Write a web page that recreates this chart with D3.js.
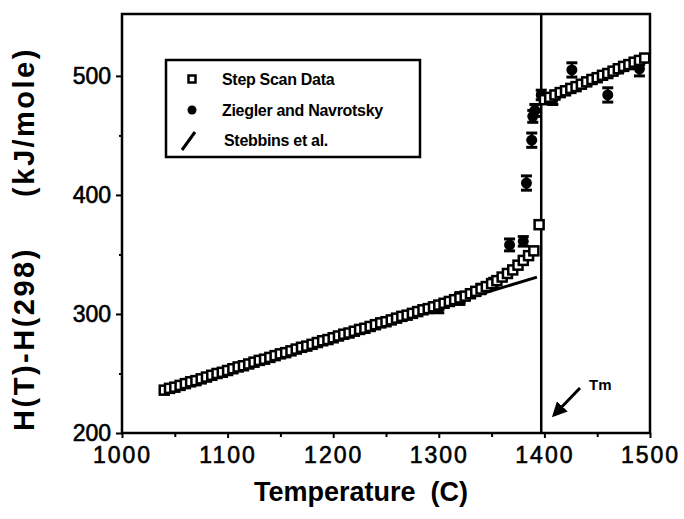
<!DOCTYPE html>
<html>
<head>
<meta charset="utf-8">
<script src="https://cdn.jsdelivr.net/npm/d3@7"></script>
<style>
  body { margin: 0; background: #fff; }
  svg { display: block; font-family: "Liberation Sans", Arial, sans-serif; }
</style>
</head>
<body>
<svg id="chart" width="684" height="519"></svg>
<script>
// step scan data (T in C, H in kJ/mole)
var stepT = [1040,1045,1050,1055,1060,1065,1070,1075,1080,1085,1090,1095,1100,1105,1110,1115,1120,1125,1130,1135,
             1140,1145,1150,1155,1160,1165,1170,1175,1180,1185,1190,1195,1200,1205,1210,1215,1220,1225,1230,1235,
             1240,1245,1250,1255,1260,1265,1270,1275,1280,1285,1290,1295,1300,1305,1310,1315,1320,1325,1330,1335,
             1340,1345,1350,1355,1360,1365,1370,1375,1380,1385,1390,1395,
             1400,1405,1410,1415,1420,1425,1430,1435,1440,1445,1450,1455,1460,1465,1470,1475,1480,1485,1490,1495];
var stepH = [236,237.5,238.5,240,241.5,243,244,245.5,247,248.5,250,251,252.5,254,255.5,256.5,258,259.5,261,262,
             263.5,265,266.5,267.5,269,270.5,272,273,274.5,276,277.5,278.5,280,281.5,283,284,285.5,287,288,289.5,
             291,292.5,293.5,295,296.5,298,299,300.5,302,303.5,304.5,306,307.5,309,310.5,312,313.5,315,317,319,
             321,323,325.5,328,331,334,337,341,345,349,353,375,
             480,482,484,486,487.5,489.5,491,493,495,497,498.5,500.5,502,504,506,508,509.5,511.5,513,515];

// Ziegler and Navrotsky (drop calorimetry) with error bars
var zieT = [1300,1320,1340,1352,1367,1380,1383,1388,1389,1391,1397,1408,1426,1460,1490];
var zieH = [305,313,321,326,358,361,410,446,466,471,484,480,505,484,506];
var zieE = [4,5,4,4,5,4,6,6,5,5,4,4,6,6,6];

// Stebbins et al. fits
var stebSolidT = [1040,1393];
var stebSolidH = [236,331];
var stebLiqT = [1400,1500];
var stebLiqH = [477,513];

var tm = 1397;

var xTicks = [1000,1100,1200,1300,1400,1500];
var xMinor = [1050,1150,1250,1350,1450];
var yTicks = [200,300,400,500];
var yMinor = [250,350,450];

var legendNames = ["Step Scan Data","Ziegler and Navrotsky","Stebbins et al."];

var svg = d3.select("#chart");
var x = d3.scaleLinear().domain([1000,1500]).range([122,650]);
var y = d3.scaleLinear().domain([200,552]).range([433,14]);

// frame
svg.append("rect")
  .attr("x", 122).attr("y", 14)
  .attr("width", 528).attr("height", 419)
  .attr("fill", "none").attr("stroke", "#000").attr("stroke-width", 2.5);

// axes
var xAxis = svg.append("g").attr("transform", "translate(0,433)")
  .call(d3.axisBottom(x).tickValues(xTicks).tickSize(5).tickPadding(9).tickFormat(d3.format("d")));
xAxis.select(".domain").remove();
xAxis.selectAll("line").attr("stroke-width", 2);
xAxis.selectAll("text").attr("font-size", 23).attr("letter-spacing", 2)
  .attr("fill", "#000").attr("stroke", "#000").attr("stroke-width", 0.6);

var xAxisMinor = svg.append("g").attr("transform", "translate(0,433)")
  .call(d3.axisBottom(x).tickValues(xMinor).tickSize(4).tickFormat(""));
xAxisMinor.select(".domain").remove();
xAxisMinor.selectAll("line").attr("stroke-width", 2);

var yAxis = svg.append("g").attr("transform", "translate(122,0)")
  .call(d3.axisLeft(y).tickValues(yTicks).tickSize(6).tickPadding(5).tickFormat(d3.format("d")));
yAxis.select(".domain").remove();
yAxis.selectAll("line").attr("stroke-width", 2);
yAxis.selectAll("text").attr("font-size", 23)
  .attr("fill", "#000").attr("stroke", "#000").attr("stroke-width", 0.6);

var yAxisMinor = svg.append("g").attr("transform", "translate(122,0)")
  .call(d3.axisLeft(y).tickValues(yMinor).tickSize(3).tickFormat(""));
yAxisMinor.select(".domain").remove();
yAxisMinor.selectAll("line").attr("stroke-width", 2);

// axis titles
svg.append("text")
  .attr("x", 361).attr("y", 501)
  .attr("text-anchor", "middle")
  .attr("font-size", 27).attr("font-weight", "bold")
  .attr("xml:space", "preserve")
  .text("Temperature  (C)");

svg.append("text")
  .attr("transform", "translate(34,339) rotate(-90)")
  .attr("text-anchor", "middle")
  .attr("font-size", 29).attr("font-weight", "bold").attr("letter-spacing", 2.5)
  .text("H(T)-H(298)");
svg.append("text")
  .attr("transform", "translate(34,122) rotate(-90)")
  .attr("text-anchor", "middle")
  .attr("font-size", 29).attr("font-weight", "bold").attr("letter-spacing", 2.5)
  .text("(kJ/mole)");

// melting line
svg.append("line")
  .attr("x1", x(tm)).attr("x2", x(tm))
  .attr("y1", 14).attr("y2", 433)
  .attr("stroke", "#000").attr("stroke-width", 2.5);

// Stebbins lines
var line = d3.line().x(function(d){ return x(d[0]); }).y(function(d){ return y(d[1]); });
[[stebSolidT, stebSolidH],[stebLiqT, stebLiqH]].forEach(function(s){
  svg.append("path")
    .datum(d3.zip(s[0], s[1]))
    .attr("d", line)
    .attr("fill", "none").attr("stroke", "#000").attr("stroke-width", 3);
});

// Ziegler error bars + circles
var zie = d3.zip(zieT, zieH, zieE);
var zg = svg.append("g");
zg.selectAll("line.eb").data(zie).enter().append("line")
  .attr("x1", function(d){ return x(d[0]); }).attr("x2", function(d){ return x(d[0]); })
  .attr("y1", function(d){ return y(d[1]+d[2]); }).attr("y2", function(d){ return y(d[1]-d[2]); })
  .attr("stroke", "#000").attr("stroke-width", 2.5);
zg.selectAll("line.capt").data(zie).enter().append("line")
  .attr("x1", function(d){ return x(d[0])-5.5; }).attr("x2", function(d){ return x(d[0])+5.5; })
  .attr("y1", function(d){ return y(d[1]+d[2]); }).attr("y2", function(d){ return y(d[1]+d[2]); })
  .attr("stroke", "#000").attr("stroke-width", 3);
zg.selectAll("line.capb").data(zie).enter().append("line")
  .attr("x1", function(d){ return x(d[0])-5.5; }).attr("x2", function(d){ return x(d[0])+5.5; })
  .attr("y1", function(d){ return y(d[1]-d[2]); }).attr("y2", function(d){ return y(d[1]-d[2]); })
  .attr("stroke", "#000").attr("stroke-width", 3);
zg.selectAll("circle").data(zie).enter().append("circle")
  .attr("cx", function(d){ return x(d[0]); })
  .attr("cy", function(d){ return y(d[1]); })
  .attr("r", 5.5).attr("fill", "#000");

// step scan squares
svg.append("g").selectAll("rect").data(d3.zip(stepT, stepH)).enter().append("rect")
  .attr("x", function(d){ return x(d[0]) - 4.5; })
  .attr("y", function(d){ return y(d[1]) - 4.5; })
  .attr("width", 9).attr("height", 9)
  .attr("fill", "#fff").attr("stroke", "#000").attr("stroke-width", 2.5);

// legend
var lg = svg.append("g");
lg.append("rect")
  .attr("x", 166).attr("y", 60).attr("width", 254).attr("height", 97)
  .attr("fill", "#fff").attr("stroke", "#000").attr("stroke-width", 2.5);
lg.append("rect")
  .attr("x", 188.5).attr("y", 75.5).attr("width", 7).attr("height", 7)
  .attr("fill", "#fff").attr("stroke", "#000").attr("stroke-width", 2.5);
lg.append("circle").attr("cx", 192).attr("cy", 110).attr("r", 4.5).attr("fill", "#000");
lg.append("line")
  .attr("x1", 182).attr("y1", 150).attr("x2", 195).attr("y2", 132)
  .attr("stroke", "#000").attr("stroke-width", 3);
lg.selectAll("text").data(legendNames).enter().append("text")
  .attr("x", function(d, i){ return i == 2 ? 224 : 222; })
  .attr("y", function(d, i){ return [85, 116, 146][i]; })
  .attr("font-size", 16).attr("font-weight", "bold").attr("letter-spacing", -0.3)
  .text(function(d){ return d; });

// Tm annotation
svg.append("defs").append("marker")
  .attr("id", "arr").attr("viewBox", "0 0 10 10")
  .attr("refX", 8).attr("refY", 5)
  .attr("markerWidth", 5).attr("markerHeight", 5)
  .attr("orient", "auto")
  .append("path").attr("d", "M0,0 L10,5 L0,10 z").attr("fill", "#000");
svg.append("line")
  .attr("x1", 580).attr("y1", 388).attr("x2", 554).attr("y2", 415)
  .attr("stroke", "#000").attr("stroke-width", 3)
  .attr("marker-end", "url(#arr)");
svg.append("text")
  .attr("x", 589).attr("y", 390)
  .attr("font-size", 15).attr("font-weight", "bold")
  .text("Tm");
</script>
</body>
</html>
